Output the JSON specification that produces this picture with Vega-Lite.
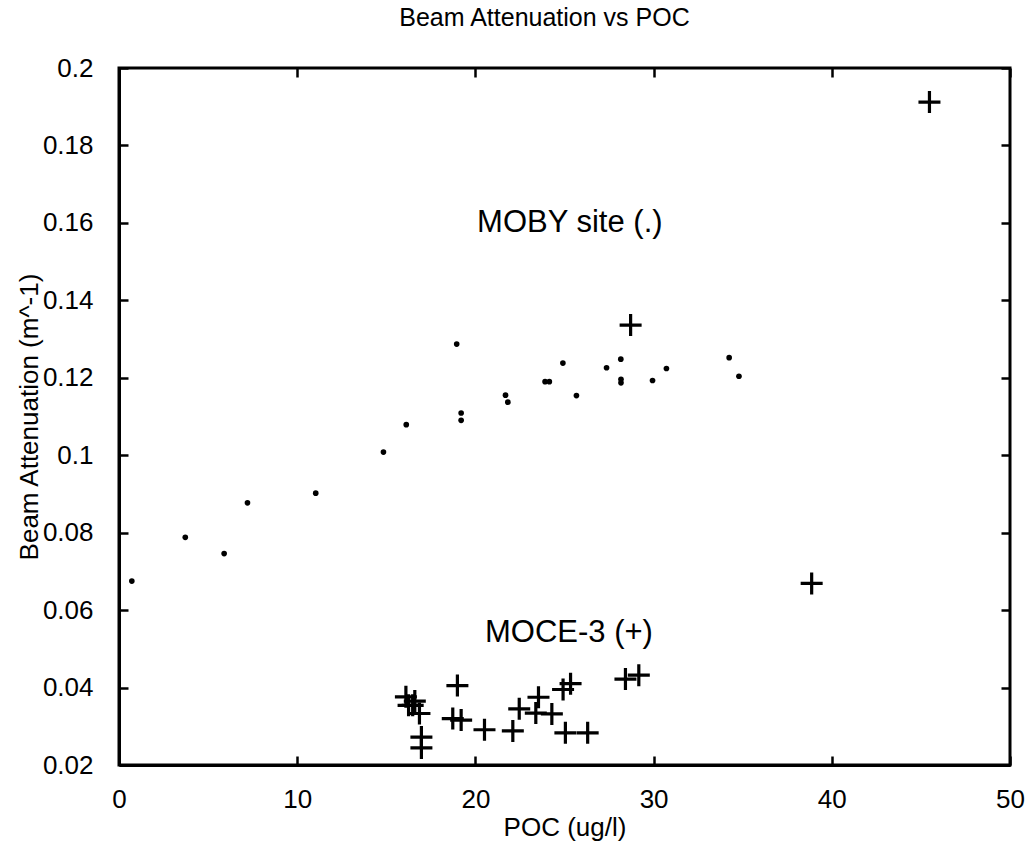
{
  "$schema": "https://vega.github.io/schema/vega-lite/v6.json",
  "width": 891,
  "height": 697,
  "autosize": {"type": "none"},
  "padding": {"left": 119, "top": 68, "right": 19, "bottom": 85},
  "background": "white",
  "title": {"text": "Beam Attenuation vs POC", "fontSize": 25, "font": "Liberation Sans", "fontWeight": "normal", "color": "black", "offset": 24, "dx": -20},
  "datasets": {
    "pts": [
      {"poc": 0.72, "atten": 0.0675, "site": "MOBY"},
      {"poc": 3.72, "atten": 0.0788, "site": "MOBY"},
      {"poc": 5.9, "atten": 0.0746, "site": "MOBY"},
      {"poc": 7.21, "atten": 0.0877, "site": "MOBY"},
      {"poc": 11.04, "atten": 0.0902, "site": "MOBY"},
      {"poc": 14.84, "atten": 0.1008, "site": "MOBY"},
      {"poc": 16.12, "atten": 0.1079, "site": "MOBY"},
      {"poc": 18.95, "atten": 0.1287, "site": "MOBY"},
      {"poc": 19.2, "atten": 0.1109, "site": "MOBY"},
      {"poc": 19.2, "atten": 0.109, "site": "MOBY"},
      {"poc": 21.69, "atten": 0.1155, "site": "MOBY"},
      {"poc": 21.82, "atten": 0.1137, "site": "MOBY"},
      {"poc": 23.91, "atten": 0.119, "site": "MOBY"},
      {"poc": 24.15, "atten": 0.119, "site": "MOBY"},
      {"poc": 24.91, "atten": 0.1238, "site": "MOBY"},
      {"poc": 25.67, "atten": 0.1154, "site": "MOBY"},
      {"poc": 27.36, "atten": 0.1226, "site": "MOBY"},
      {"poc": 28.16, "atten": 0.1248, "site": "MOBY"},
      {"poc": 28.17, "atten": 0.1196, "site": "MOBY"},
      {"poc": 28.17, "atten": 0.1187, "site": "MOBY"},
      {"poc": 29.94, "atten": 0.1193, "site": "MOBY"},
      {"poc": 30.72, "atten": 0.1224, "site": "MOBY"},
      {"poc": 34.24, "atten": 0.1252, "site": "MOBY"},
      {"poc": 34.79, "atten": 0.1204, "site": "MOBY"},
      {"poc": 16.1, "atten": 0.0376, "site": "MOCE-3"},
      {"poc": 16.25, "atten": 0.0354, "site": "MOCE-3"},
      {"poc": 16.48, "atten": 0.0354, "site": "MOCE-3"},
      {"poc": 16.6, "atten": 0.0365, "site": "MOCE-3"},
      {"poc": 16.86, "atten": 0.0333, "site": "MOCE-3"},
      {"poc": 16.97, "atten": 0.0272, "site": "MOCE-3"},
      {"poc": 16.97, "atten": 0.0244, "site": "MOCE-3"},
      {"poc": 18.99, "atten": 0.0405, "site": "MOCE-3"},
      {"poc": 18.73, "atten": 0.032, "site": "MOCE-3"},
      {"poc": 19.2, "atten": 0.0316, "site": "MOCE-3"},
      {"poc": 20.51, "atten": 0.0291, "site": "MOCE-3"},
      {"poc": 22.1, "atten": 0.0288, "site": "MOCE-3"},
      {"poc": 22.46, "atten": 0.0345, "site": "MOCE-3"},
      {"poc": 23.54, "atten": 0.0375, "site": "MOCE-3"},
      {"poc": 23.39, "atten": 0.0334, "site": "MOCE-3"},
      {"poc": 24.29, "atten": 0.0332, "site": "MOCE-3"},
      {"poc": 24.92, "atten": 0.0395, "site": "MOCE-3"},
      {"poc": 25.34, "atten": 0.041, "site": "MOCE-3"},
      {"poc": 25.05, "atten": 0.0283, "site": "MOCE-3"},
      {"poc": 26.3, "atten": 0.0283, "site": "MOCE-3"},
      {"poc": 28.42, "atten": 0.0422, "site": "MOCE-3"},
      {"poc": 29.17, "atten": 0.0432, "site": "MOCE-3"},
      {"poc": 28.71, "atten": 0.1336, "site": "MOCE-3"},
      {"poc": 38.87, "atten": 0.0669, "site": "MOCE-3"},
      {"poc": 45.48, "atten": 0.1912, "site": "MOCE-3"}
    ],
    "notes": [
      {"poc": 25.3, "atten": 0.16, "label": "MOBY site (.)"},
      {"poc": 25.25, "atten": 0.0542, "label": "MOCE-3 (+)"}
    ]
  },
  "layer": [
    {
      "data": {"name": "pts"},
      "transform": [{"filter": "datum.site === 'MOBY'"}],
      "mark": {"type": "point", "shape": "circle", "filled": true, "size": 32, "color": "black", "opacity": 1},
      "encoding": {
        "x": {"field": "poc", "type": "quantitative", "scale": {"domain": [0, 50], "nice": false, "zero": false},
          "axis": {"orient": "bottom", "values": [0, 10, 20, 30, 40, 50], "labelPadding": 30, "labelFlush": false, "labelOverlap": false, "title": "POC (ug/l)", "titlePadding": 2}},
        "y": {"field": "atten", "type": "quantitative", "scale": {"domain": [0.02, 0.2], "nice": false, "zero": false},
          "axis": {"orient": "left", "values": [0.02, 0.04, 0.06, 0.08, 0.1, 0.12, 0.14, 0.16, 0.18, 0.2], "format": "~g", "labelPadding": 35, "labelOverlap": false, "labelFlush": false, "title": "Beam Attenuation (m^-1)", "titlePadding": 0}}
      }
    },
    {
      "data": {"name": "pts"},
      "transform": [{"filter": "datum.site === 'MOCE-3'"}],
      "mark": {"type": "point", "shape": "M-1,0L1,0M0,-1L0,1", "filled": false, "size": 484, "stroke": "black", "strokeWidth": 3.2, "opacity": 1},
      "encoding": {
        "x": {"field": "poc", "type": "quantitative", "axis": null},
        "y": {"field": "atten", "type": "quantitative", "axis": null}
      }
    },
    {
      "data": {"name": "notes"},
      "mark": {"type": "text", "fontSize": 31, "font": "Liberation Sans", "color": "black", "align": "center", "baseline": "middle"},
      "encoding": {
        "x": {"field": "poc", "type": "quantitative", "axis": null},
        "y": {"field": "atten", "type": "quantitative", "axis": null},
        "text": {"field": "label", "type": "nominal"}
      }
    },
    {
      "data": {"name": "pts"},
      "mark": {"type": "point", "opacity": 0},
      "encoding": {
        "x": {"field": "poc", "type": "quantitative",
          "axis": {"orient": "top", "values": [0, 10, 20, 30, 40, 50], "labels": false, "title": null, "domain": false}},
        "y": {"field": "atten", "type": "quantitative",
          "axis": {"orient": "right", "values": [0.02, 0.04, 0.06, 0.08, 0.1, 0.12, 0.14, 0.16, 0.18, 0.2], "labels": false, "title": null, "domain": false}}
      }
    }
  ],
  "resolve": {"axis": {"x": "independent", "y": "independent"}},
  "config": {
    "view": {"stroke": "black", "strokeWidth": 3},
    "axis": {
      "grid": false,
      "domainColor": "black",
      "domainWidth": 3,
      "tickColor": "black",
      "tickWidth": 2.5,
      "tickSize": -9,
      "labelFont": "Liberation Sans",
      "labelFontSize": 26,
      "labelColor": "black",
      "titleFont": "Liberation Sans",
      "titleFontSize": 26,
      "titleFontWeight": "normal",
      "titleColor": "black"
    }
  }
}
